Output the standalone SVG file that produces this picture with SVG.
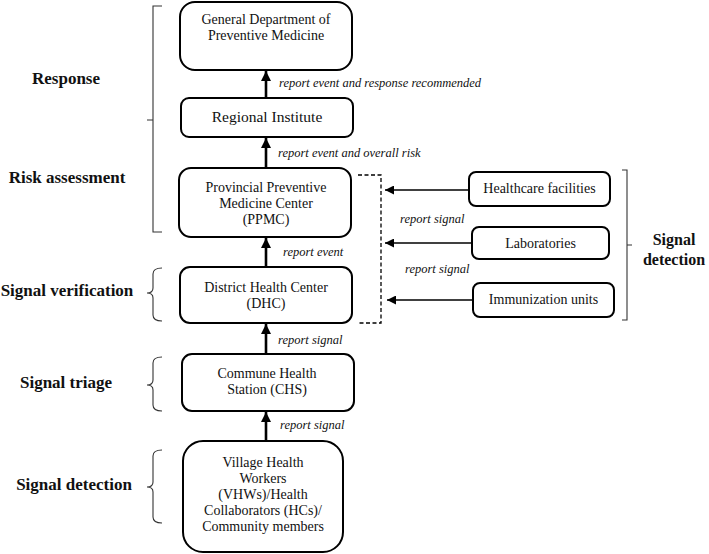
<svg xmlns="http://www.w3.org/2000/svg" width="709" height="554" viewBox="0 0 709 554">
<defs>
<marker id="ah" viewBox="0 0 10 10" refX="10" refY="5" markerWidth="4" markerHeight="4" orient="auto" markerUnits="strokeWidth"><path d="M0,0 L10,5 L0,10 z" fill="#000"/></marker>
<marker id="ah2" viewBox="0 0 10 10" refX="10" refY="5" markerWidth="6.5" markerHeight="6" orient="auto" markerUnits="strokeWidth"><path d="M0,0 L10,5 L0,10 z" fill="#000"/></marker>
</defs>
<style>
text{font-family:'Liberation Serif','Times New Roman',Times,serif}
.box{fill:#fff;stroke:#000;stroke-width:2}
.t{font-size:14px;fill:#111;text-anchor:middle}
.lab{font-size:12.5px;font-style:italic;fill:#111}
.stage{font-size:17px;font-weight:bold;fill:#111;text-anchor:middle}
.br{fill:none;stroke:#333;stroke-width:1.1}
.va{stroke:#000;stroke-width:2.6;fill:none;marker-end:url(#ah)}
.ha{stroke:#000;stroke-width:1.5;fill:none;marker-end:url(#ah2)}
</style>
<rect width="709" height="554" fill="#fff"/>
<g id="connectors">
<line class="va" x1="266" y1="98" x2="266" y2="71"/>
<line class="va" x1="266" y1="168" x2="266" y2="138"/>
<line class="va" x1="266" y1="267" x2="266" y2="238"/>
<line class="va" x1="266" y1="354" x2="266" y2="324"/>
<line class="va" x1="266" y1="441" x2="266" y2="412"/>
<line class="ha" x1="469" y1="190" x2="385" y2="190"/>
<line class="ha" x1="472" y1="243" x2="385" y2="243"/>
<line class="ha" x1="473" y1="300" x2="387" y2="300"/>
<path d="M358,175 H381 V323 H358" fill="none" stroke="#000" stroke-width="1.3" stroke-dasharray="4,2.5"/>
<text class="lab" x="279" y="87">report event and response recommended</text>
<text class="lab" x="278" y="157">report event and overall risk</text>
<text class="lab" x="283" y="256">report event</text>
<text class="lab" x="278" y="344">report signal</text>
<text class="lab" x="280" y="429">report signal</text>
<text class="lab" x="400" y="223">report signal</text>
<text class="lab" x="405" y="273">report signal</text>
</g>
<g id="gdpm"><rect class="box" x="180" y="2" width="172" height="68" rx="15"/><text class="t" x="266" y="24">General Department of</text><text class="t" x="266" y="40">Preventive Medicine</text></g>
<g id="regional"><rect class="box" x="181" y="98" width="172" height="39" rx="8"/><text class="t" x="267" y="122" style="font-size:15.5px">Regional Institute</text></g>
<g id="ppmc"><rect class="box" x="179" y="168" width="172" height="69" rx="12"/><text class="t" x="266" y="192">Provincial Preventive</text><text class="t" x="266" y="208">Medicine Center</text><text class="t" x="266" y="224">(PPMC)</text></g>
<g id="dhc"><rect class="box" x="180" y="267" width="172" height="56" rx="10"/><text class="t" x="266" y="292">District Health Center</text><text class="t" x="266" y="308">(DHC)</text></g>
<g id="chs"><rect class="box" x="182" y="354" width="172" height="57" rx="10"/><text class="t" x="267" y="378">Commune Health</text><text class="t" x="267" y="394">Station (CHS)</text></g>
<g id="vhw"><rect class="box" x="183" y="441" width="160" height="111" rx="20"/><text class="t" x="263" y="467">Village Health</text><text class="t" x="263" y="483">Workers</text><text class="t" x="263" y="499">(VHWs)/Health</text><text class="t" x="263" y="515">Collaborators (HCs)/</text><text class="t" x="263" y="531">Community members</text></g>
<g id="healthcare"><rect class="box" x="469" y="172" width="141" height="34" rx="7"/><text class="t" x="539.5" y="193">Healthcare facilities</text></g>
<g id="labs"><rect class="box" x="472" y="227" width="137" height="32" rx="7"/><text class="t" x="540.5" y="248">Laboratories</text></g>
<g id="immun"><rect class="box" x="473" y="283" width="141" height="34" rx="7"/><text class="t" x="543.5" y="304">Immunization units</text></g>
<g id="stages">
<path class="br" d="M162,6 H153 V232 H162 M153,120 H147"/>
<path class="br" d="M162,268 Q153,268 153,274 V288 Q153,293 147,293 Q153,293 153,298 V315 Q153,321 162,321"/>
<path class="br" d="M162,357 Q153,357 153,363 V380 Q153,385 147,385 Q153,385 153,390 V405 Q153,411 162,411"/>
<path class="br" d="M162,450 Q153,450 153,456 V482 Q153,487 147,487 Q153,487 153,492 V517 Q153,523 162,523"/>
<path class="br" d="M622,170 H627 V320 H622 M627,245 H632"/>
<text class="stage" x="66" y="84">Response</text>
<text class="stage" x="67" y="183">Risk assessment</text>
<text class="stage" x="67" y="296">Signal verification</text>
<text class="stage" x="66" y="388">Signal triage</text>
<text class="stage" x="74" y="490">Signal detection</text>
<text class="stage" x="674" y="245" style="font-size:16px">Signal</text>
<text class="stage" x="674" y="265" style="font-size:16px">detection</text>
</g>
</svg>
